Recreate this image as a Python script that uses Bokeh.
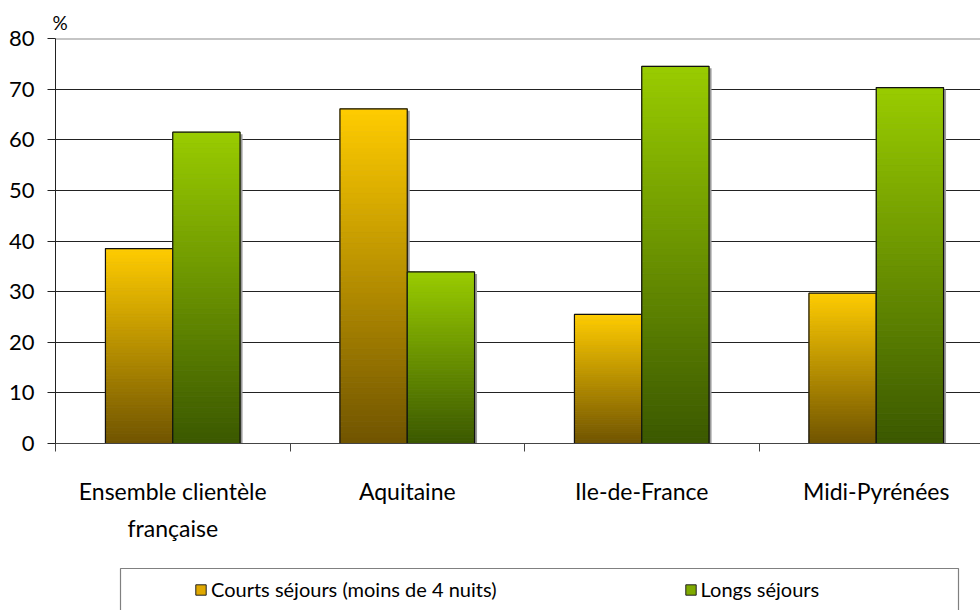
from bokeh.plotting import figure
from bokeh.models import Range1d, FixedTicker, Title, Legend, LegendItem, Span
from bokeh.layouts import column
from bokeh.embed import file_html
from bokeh.resources import INLINE

# ---- data ----
categories = ["Ensemble clientèle\nfrançaise", "Aquitaine", "Ile-de-France", "Midi-Pyrénées"]
courts = [38.5, 66.1, 25.5, 29.7]
longs = [61.5, 33.9, 74.5, 70.3]
series_names = ["Courts séjours (moins de 4 nuits)", "Longs séjours"]
y_ticks = [0, 10, 20, 30, 40, 50, 60, 70, 80]
y_unit = "%"

# ---- style ----
FONT = "Lato"
W = 980
H_MAIN = 560
H_LEG = 50
BORDER_L = 55
CAT_PX = 234.5
BW = 0.287
ORANGE_TOP, ORANGE_BOT = "#FFCC00", "#705400"
GREEN_TOP, GREEN_BOT = "#99CC00", "#3B5800"
SHADOW_DX = 2.5 / CAT_PX
SHADOW_DY = 2.0 / ((443 - 38) / 80)


def hex2rgb(h):
    h = h.lstrip("#")
    return tuple(int(h[i:i + 2], 16) for i in (0, 2, 4))


def lerp_col(c0, c1, t):
    a, b = hex2rgb(c0), hex2rgb(c1)
    return "#%02x%02x%02x" % tuple(int(round(a[k] + (b[k] - a[k]) * t)) for k in range(3))


def gradient_data(centers, values, top_col, bot_col, n=60):
    d = dict(left=[], right=[], bottom=[], top=[], color=[])
    for c, v in zip(centers, values):
        for j in range(n):
            d["left"].append(c - BW / 2)
            d["right"].append(c + BW / 2)
            d["bottom"].append(v * j / n)
            d["top"].append(v * (j + 1) / n)
            d["color"].append(lerp_col(bot_col, top_col, (j + 0.5) / n))
    return d


frame_w = W - BORDER_L
p = figure(width=W, height=H_MAIN, output_backend="svg", toolbar_location=None,
           x_range=Range1d(0, frame_w / CAT_PX), y_range=Range1d(0, 80),
           min_border_left=BORDER_L, min_border_right=0, min_border_top=38,
           min_border_bottom=H_MAIN - 443)
p.outline_line_color = None
p.background_fill_color = "white"

idx = list(range(len(categories)))
c_centers = [i + 0.5 - BW / 2 for i in idx]
l_centers = [i + 0.5 + BW / 2 for i in idx]

# soft shadows behind the bars
for centers, vals in ((c_centers, courts), (l_centers, longs)):
    p.quad(left=[c - BW / 2 + SHADOW_DX for c in centers],
           right=[c + BW / 2 + SHADOW_DX for c in centers],
           bottom=[0] * len(vals), top=[v - SHADOW_DY for v in vals],
           fill_color="#9a9a9a", line_color=None)

for centers, vals, tc, bc in ((c_centers, courts, ORANGE_TOP, ORANGE_BOT),
                              (l_centers, longs, GREEN_TOP, GREEN_BOT)):
    d = gradient_data(centers, vals, tc, bc)
    p.quad(left="left", right="right", bottom="bottom", top="top", source=d,
           fill_color="color", line_color="color", line_width=0.8)
    p.quad(left=[c - BW / 2 for c in centers], right=[c + BW / 2 for c in centers],
           bottom=[0] * len(vals), top=vals, fill_color=None,
           line_color="#111111", line_width=1.2)

# grid
p.xgrid.visible = False
p.ygrid.ticker = FixedTicker(ticks=y_ticks)
p.ygrid.grid_line_color = "#222222"
p.ygrid.grid_line_width = 1
p.add_layout(Span(location=y_ticks[-1], dimension="width", line_color="#8c8c8c",
                  line_width=2, level="underlay"))

# y axis
p.yaxis.ticker = FixedTicker(ticks=y_ticks)
p.yaxis.axis_line_color = "#222222"
p.yaxis.major_tick_out = 8
p.yaxis.major_tick_in = 0
p.yaxis.major_tick_line_color = "#222222"
p.yaxis.minor_tick_line_color = None
p.yaxis.major_label_text_font = FONT
p.yaxis.major_label_text_font_size = "22px"
p.yaxis.major_label_text_color = "black"
p.yaxis.major_label_standoff = 13

# x axis
p.xaxis.ticker = FixedTicker(ticks=[i + 0.5 for i in idx], minor_ticks=[float(i) for i in idx])
p.xaxis.major_label_overrides = {i + 0.5: categories[i] for i in idx}
p.xaxis.axis_line_color = "#444444"
p.xaxis.major_tick_line_color = None
p.xaxis.major_tick_out = 0
p.xaxis.major_tick_in = 0
p.xaxis.minor_tick_line_color = "#444444"
p.xaxis.minor_tick_out = 8
p.xaxis.minor_tick_in = 0
p.xaxis.major_label_text_font = FONT
p.xaxis.major_label_text_font_size = "23px"
p.xaxis.major_label_text_color = "black"
p.xaxis.major_label_text_line_height = 1.33
p.xaxis.major_label_standoff = 25

p.add_layout(Title(text=y_unit, align="left", offset=-3, standoff=10,
                   text_font=FONT, text_font_size="19px", text_color="black",
                   text_font_style="normal"), "above")

# legend figure (its frame is aligned with the main frame by the column layout)
lf = figure(width=W, height=H_LEG, output_backend="svg", toolbar_location=None,
            x_range=Range1d(BORDER_L, W), y_range=Range1d(0, H_LEG),
            x_axis_location=None, y_axis_location=None, min_border=0,
            min_border_left=BORDER_L, min_border_right=0)
lf.grid.visible = False
lf.outline_line_color = None
lf.quad(left=[120], right=[958], bottom=[-10], top=[H_LEG - 8],
        fill_color="white", line_color="#808080", line_width=1.2)
r1 = lf.rect(x=[-500], y=[-500], width=1, height=1, fill_color="#E0A800", line_color="#222222")
r2 = lf.rect(x=[-500], y=[-500], width=1, height=1, fill_color="#7FAA00", line_color="#222222")
legend = Legend(items=[LegendItem(label=series_names[0], renderers=[r1]),
                       LegendItem(label=series_names[1], renderers=[r2])],
                orientation="horizontal", location=(194 - BORDER_L, 9), padding=0, margin=0,
                spacing=187, label_standoff=4, glyph_width=13, glyph_height=13,
                label_height=22, label_text_font=FONT, label_text_font_size="20px",
                label_text_color="black", border_line_color=None,
                background_fill_alpha=0)
lf.add_layout(legend)

layout = column(p, lf, spacing=0)
open("out.html", "w").write(file_html(layout, INLINE))
